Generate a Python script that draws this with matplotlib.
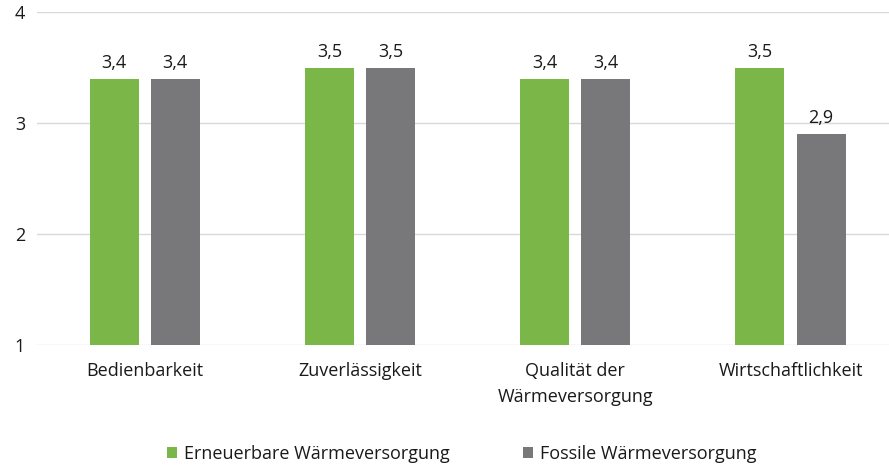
import matplotlib.pyplot as plt
import numpy as np

plt.rcParams["font.family"] = ["Open Sans", "DejaVu Sans"]

categories = ["Bedienbarkeit", "Zuverlässigkeit", "Qualität der\nWärmeversorgung", "Wirtschaftlichkeit"]
erneuerbar = [3.4, 3.5, 3.4, 3.5]
fossil = [3.4, 3.5, 3.4, 2.9]
series_names = ["Erneuerbare Wärmeversorgung", "Fossile Wärmeversorgung"]
yticks = [1, 2, 3, 4]

GREEN = "#7ab648"
GRAY = "#78787a"
TXT = "#1a1a1a"
FS = 13

fig = plt.figure(figsize=(8.89, 4.68), dpi=100)
# the plot area runs a little past the right edge of the figure
ax = fig.add_axes([0.0416, 0.2628, 0.9687, 0.7115])

x = np.arange(len(categories))
w = 0.228
off = 0.142
base = 1
b1 = ax.bar(x - off, np.array(erneuerbar) - base, w, bottom=base, color=GREEN, label=series_names[0], zorder=3)
b2 = ax.bar(x + off, np.array(fossil) - base, w, bottom=base, color=GRAY, label=series_names[1], zorder=3)

for bars, vals in ((b1, erneuerbar), (b2, fossil)):
    for r, v in zip(bars, vals):
        ax.annotate(("%.1f" % v).replace(".", ","), (r.get_x() + r.get_width() / 2, v),
                    xytext=(0, 5), textcoords="offset points", ha="center", va="bottom",
                    fontsize=FS, color=TXT)

ax.set_xlim(-0.5, len(categories) - 0.5)
ax.set_ylim(1, 4)
ax.set_yticks(yticks)
ax.set_yticklabels([str(t) for t in yticks])
ax.set_xticks(x)
ax.set_xticklabels(categories, fontsize=FS, color=TXT, linespacing=1.6)
ax.tick_params(axis="y", length=0, pad=16, labelsize=FS, labelcolor=TXT)
ax.tick_params(axis="x", length=0, pad=12)
for lab in ax.get_yticklabels():
    lab.set_horizontalalignment("left")
ax.grid(axis="y", color="#d9d9d9", linewidth=1, zorder=0)
for s in ax.spines.values():
    s.set_visible(False)
ax.set_axisbelow(True)

fig.legend(loc="lower center", bbox_to_anchor=(0.519, -0.024), ncol=2, frameon=False,
           fontsize=FS, handlelength=0.6, handleheight=0.6, columnspacing=4.05,
           handletextpad=0.35, labelcolor=TXT)

fig.savefig("out.png", dpi=100)
